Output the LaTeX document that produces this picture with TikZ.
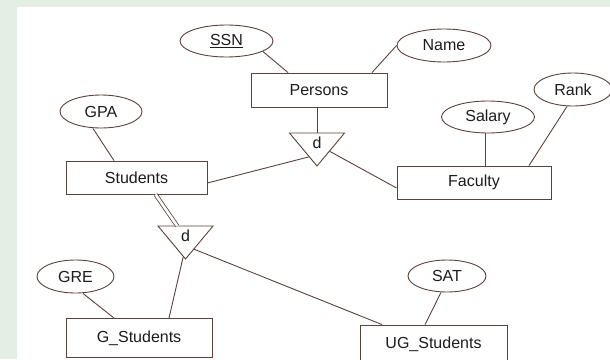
\documentclass[tikz,border=0pt]{standalone}
\usepackage{fontspec}
\setmainfont{Liberation Sans}
\usetikzlibrary{shapes.geometric,calc}
\definecolor{pagegreen}{RGB}{228,238,228}
\definecolor{inkline}{RGB}{92,66,62}
\definecolor{inktext}{RGB}{28,28,28}
\tikzset{
  er/.style={draw=inkline, line width=0.9pt, text=inktext,
             font=\fontsize{16}{19}\selectfont, inner sep=0pt},
  entity/.style={er, rectangle, minimum height=33pt},
  attrib/.style={er, ellipse, minimum height=32pt},
  link/.style={draw=inkline, line width=0.9pt},
  isa/.style={draw=inkline, line width=0.9pt, line join=miter},
  isalabel/.style={text=inktext, font=\fontsize{16}{19}\selectfont, inner sep=0pt}
}
\begin{document}
\begin{tikzpicture}[x=1pt,y=-1pt]
  % page and frame
  \useasboundingbox (0,0) rectangle (610,359);
  \clip (0,0) rectangle (610,359);
  \fill[pagegreen] (0,0) rectangle (610,359);
  \fill[white] (17,7) rectangle (610,359);

  % entities
  \node[entity, minimum width=136pt, minimum height=34pt] (persons) at (319,90) {Persons};
  \node[entity, minimum width=141pt] (students) at (136.5,177.5) {Students};
  \node[entity, minimum width=154pt] (faculty) at (474,182.5) {Faculty};
  \node[entity, minimum width=146pt, minimum height=39pt] (gstud) at (139,338) {G\_Students};
  \node[entity, minimum width=147pt, minimum height=39pt] (ugstud) at (433.5,344.5) {UG\_Students};

  % attributes
  \node[attrib, minimum width=93pt] (ssn) at (226.5,41) {\underline{SSN}};
  \node[attrib, minimum width=94pt, minimum height=33pt] (name) at (444,45.5) {Name};
  \node[attrib, minimum width=78pt, minimum height=33pt] (rank) at (573,89.5) {Rank};
  \node[attrib, minimum width=93pt] (salary) at (488,117) {Salary};
  \node[attrib, minimum width=82pt, minimum height=33pt] (gpa) at (101,111.5) {GPA};
  \node[attrib, minimum width=77pt, minimum height=33pt] (gre) at (75.5,276.5) {GRE};
  \node[attrib, minimum width=78pt] (sat) at (447,276) {SAT};

  % disjoint specialisation triangles
  \coordinate (t1l) at (289.5,133);
  \coordinate (t1r) at (344.5,133);
  \coordinate (t1a) at (317,166);
  \draw[isa] (t1l) -- (t1r) -- (t1a) -- cycle;
  \node[isalabel] (isa1) at (317,143) {d};

  \coordinate (t2l) at (158,226);
  \coordinate (t2r) at (213,226);
  \coordinate (t2a) at (185.5,259);
  \draw[isa] (t2l) -- (t2r) -- (t2a) -- cycle;
  \node[isalabel] (isa2) at (185.5,236) {d};

  % attribute links
  \draw[link] (ssn.-16) -- ($(persons.north)+(-31,0)$);
  \draw[link] (name.west) -- ($(persons.north)+(53,0)$);
  \draw[link] ($(gpa.south)+(-8,0)$) -- ($(students.north)+(-22.5,0)$);
  \draw[link] ($(salary.south)+(-3,0)$) -- ($(faculty.north)+(11,0)$);
  \draw[link] ($(rank.south)+(-6,0)$) -- ($(faculty.north)+(55,0)$);
  \draw[link] ($(gre.south)+(7.5,0)$) -- ($(gstud.north)+(-25,0)$);
  \draw[link] ($(sat.south)+(-6,0)$) -- ($(ugstud.north)+(-8.5,0)$);

  % specialisation links
  \draw[link] (persons.south -| t1a) -- ($(t1l)!0.5!(t1r)$);
  \draw[link] ($(students.east)+(0,5.5)$) -- ($(t1l)!0.72!(t1a)$);
  \draw[link] ($(t1r)!0.55!(t1a)$) -- ($(faculty.west)+(0,5.5)$);
  \draw[draw=inkline, line width=0.8pt, double=white, double distance=2.6pt]
    ($(students.south)+(19,0)$) -- ($(t2l)!0.35!(t2r)$);
  \draw[link] ($(t2l)!0.92!(t2a)$) -- ($(gstud.north)+(30,0)$);
  \draw[link] ($(t2r)!0.7!(t2a)$) -- ($(ugstud.north)+(-51.5,0)$);
\end{tikzpicture}
\end{document}
